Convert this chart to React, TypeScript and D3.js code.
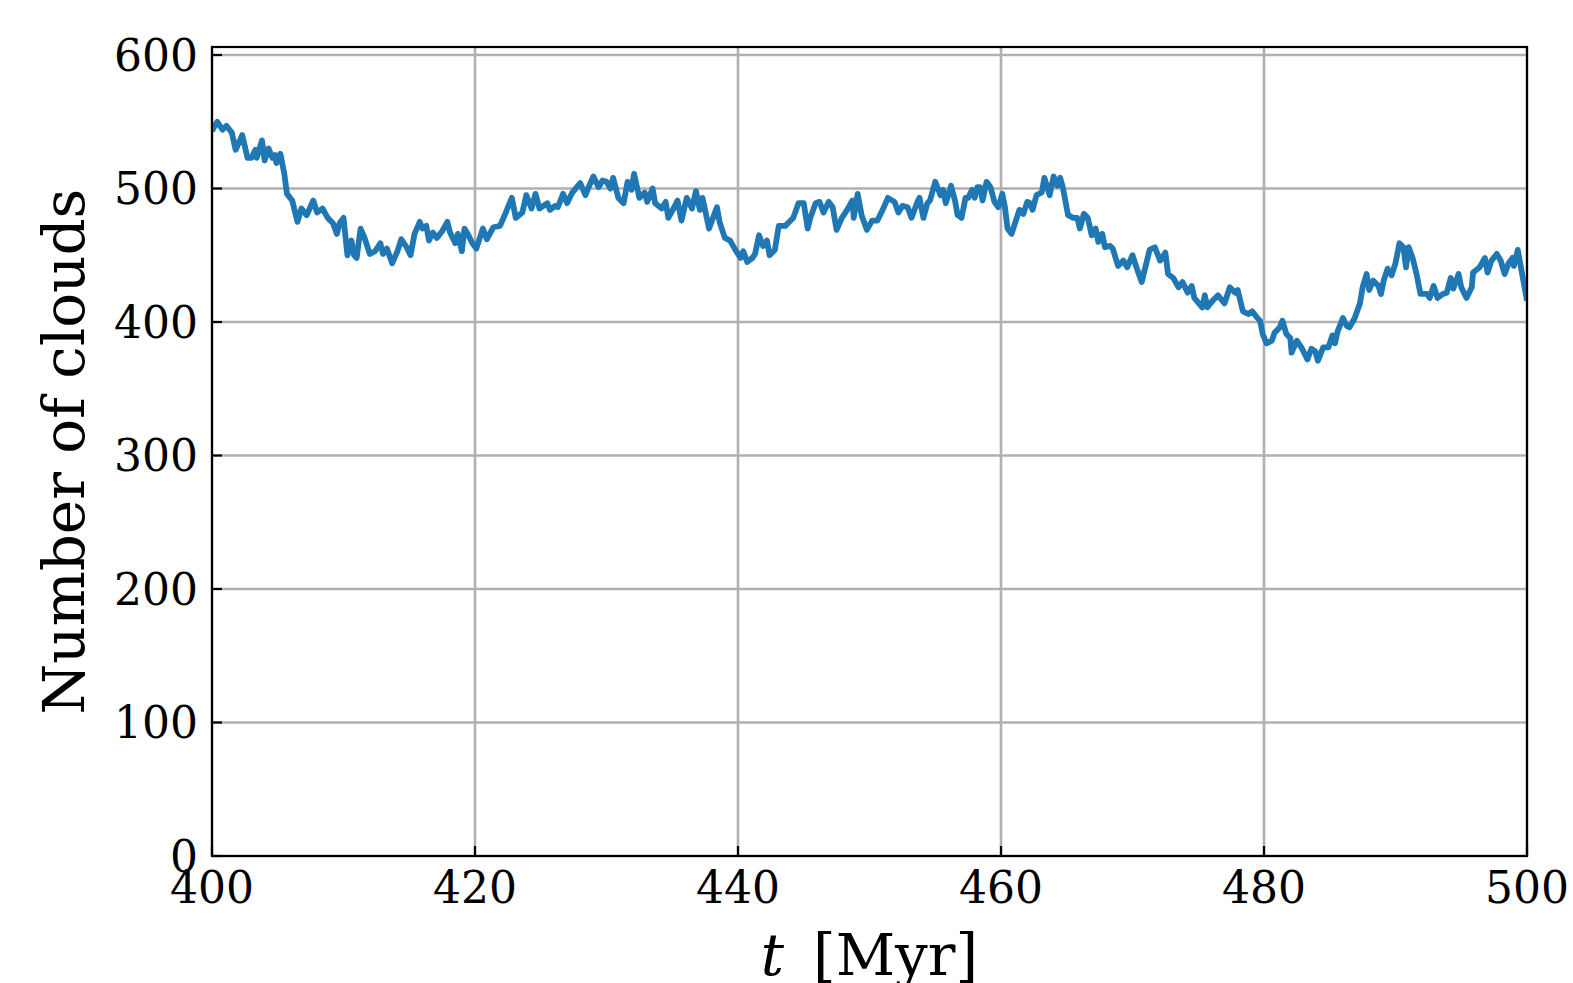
import React from 'react';
import * as d3 from 'd3';

// time samples [Myr] and number of clouds
const times: number[] = [
  400.0, 400.1, 400.4, 400.8, 401.1, 401.5, 401.8, 402.3, 402.7, 403.0, 403.3, 403.4, 403.8, 404.0, 404.3,
  404.6, 404.8, 404.9, 405.2, 405.5, 405.7, 406.1, 406.5, 406.8, 407.2, 407.7, 408.0, 408.4, 408.8, 409.2,
  409.5, 409.7, 410.0, 410.3, 410.6, 410.8, 411.0, 411.3, 411.6, 412.0, 412.4, 412.8, 413.0, 413.3, 413.7,
  414.1, 414.4, 414.8, 415.1, 415.4, 415.8, 416.0, 416.3, 416.5, 416.8, 417.1, 417.5, 417.9, 418.1, 418.5,
  418.7, 419.0, 419.2, 419.5, 419.8, 420.1, 420.6, 420.9, 421.4, 421.9, 422.3, 422.8, 423.1, 423.6, 423.9,
  424.3, 424.6, 424.9, 425.5, 425.7, 426.1, 426.3, 426.7, 427.0, 427.4, 428.0, 428.4, 428.6, 429.0, 429.4,
  429.7, 430.0, 430.3, 430.5, 430.9, 431.3, 431.6, 431.9, 432.1, 432.5, 432.9, 433.1, 433.5, 433.7, 434.2,
  434.5, 434.7, 435.1, 435.4, 435.7, 436.1, 436.5, 436.8, 437.1, 437.3, 437.8, 438.1, 438.4, 438.6, 439.0,
  439.4, 439.8, 440.2, 440.4, 440.7, 441.1, 441.3, 441.6, 441.9, 442.2, 442.4, 442.8, 443.1, 443.6, 444.0,
  444.2, 444.6, 445.0, 445.3, 445.5, 445.9, 446.2, 446.5, 446.9, 447.2, 447.5, 447.9, 448.3, 448.7, 448.8,
  449.1, 449.4, 449.8, 450.2, 450.6, 451.0, 451.4, 451.9, 452.2, 452.5, 452.9, 453.2, 453.6, 453.8, 454.1,
  454.4, 454.6, 455.0, 455.4, 455.6, 455.8, 456.2, 456.5, 456.7, 457.0, 457.3, 457.5, 457.8, 458.0, 458.2,
  458.4, 458.6, 458.9, 459.2, 459.5, 459.8, 460.1, 460.3, 460.5, 460.8, 461.1, 461.4, 461.7, 462.0, 462.2,
  462.4, 462.7, 463.1, 463.3, 463.7, 464.0, 464.3, 464.5, 464.7, 465.1, 465.5, 465.8, 466.0, 466.3, 466.6,
  466.9, 467.2, 467.4, 467.7, 467.9, 468.3, 468.5, 468.9, 469.3, 469.6, 470.0, 470.3, 470.7, 471.0, 471.3,
  471.7, 472.1, 472.5, 472.7, 473.1, 473.5, 473.8, 474.2, 474.5, 474.7, 475.3, 475.5, 475.7, 476.1, 476.5,
  477.0, 477.4, 477.8, 478.0, 478.4, 478.8, 479.1, 479.5, 479.7, 479.9, 480.2, 480.6, 480.8, 481.2, 481.4,
  481.7, 482.0, 482.1, 482.5, 482.9, 483.3, 483.6, 483.9, 484.1, 484.5, 484.9, 485.2, 485.4, 485.6, 486.0,
  486.3, 486.5, 486.9, 487.3, 487.5, 487.8, 488.0, 488.3, 488.7, 488.9, 489.1, 489.4, 489.7, 490.0, 490.3,
  490.6, 490.8, 491.0, 491.3, 491.6, 491.9, 492.4, 492.6, 492.9, 493.2, 493.6, 493.9, 494.2, 494.4, 494.8,
  495.0, 495.4, 495.8, 495.9, 496.4, 496.8, 497.0, 497.3, 497.7, 498.0, 498.3, 498.6, 498.9, 499.0, 499.3,
  500.0,
];

const clouds: number[] = [
  543, 545, 550, 544, 547, 542, 529, 540, 523, 523, 529, 523, 536, 521, 530,
  523, 525, 519, 526, 511, 496, 491, 475, 485, 480, 491, 482, 485, 478, 474,
  466, 474, 478, 450, 461, 450, 448, 470, 463, 451, 453, 459, 451, 455, 444,
  453, 462, 456, 450, 466, 475, 470, 472, 461, 467, 463, 468, 475, 467, 459,
  466, 453, 470, 465, 459, 455, 470, 462, 471, 472, 481, 493, 478, 482, 495,
  485, 496, 485, 489, 484, 487, 486, 496, 489, 497, 504, 495, 500, 509, 501,
  506, 505, 500, 508, 493, 489, 505, 499, 511, 493, 497, 490, 500, 489, 485,
  490, 478, 485, 491, 476, 493, 485, 498, 484, 493, 470, 478, 486, 475, 463,
  461, 454, 448, 453, 445, 448, 451, 465, 457, 461, 450, 454, 472, 472, 476,
  478, 489, 489, 470, 478, 489, 490, 482, 490, 486, 469, 478, 484, 491, 478,
  496, 480, 469, 476, 476, 484, 493, 490, 482, 487, 486, 478, 489, 493, 478,
  489, 491, 505, 495, 499, 489, 502, 491, 480, 478, 493, 493, 499, 493, 501,
  501, 491, 505, 501, 490, 486, 496, 486, 470, 466, 475, 484, 481, 490, 489,
  484, 495, 497, 508, 495, 509, 502, 508, 501, 480, 478, 478, 470, 481, 478,
  465, 470, 460, 466, 456, 457, 455, 442, 446, 441, 450, 441, 430, 442, 454,
  456, 446, 452, 436, 433, 426, 430, 422, 427, 418, 411, 420, 411, 416, 420,
  414, 426, 422, 424, 408, 406, 408, 403, 401, 391, 384, 386, 392, 396, 401,
  391, 388, 377, 386, 380, 372, 380, 378, 371, 381, 381, 390, 384, 393, 403,
  397, 396, 403, 414, 426, 436, 424, 431, 427, 421, 431, 440, 435, 444, 459,
  456, 441, 456, 448, 436, 421, 421, 418, 427, 418, 421, 422, 433, 425, 436,
  426, 418, 426, 437, 441, 448, 437, 446, 451, 446, 436, 444, 448, 442, 454,
  416,
];

const xTicks = [400, 420, 440, 460, 480, 500];
const yTicks = [0, 100, 200, 300, 400, 500, 600];

const W = 1573;
const H = 983;
const left = 212;
const right = 1527;
const top = 47;
const bottom = 856;
const serif = "'DejaVu Serif', serif";

const App: React.FC = () => {
  const x = d3.scaleLinear().domain([400, 500]).range([left, right]);
  const y = d3.scaleLinear().domain([0, 606]).range([bottom, top]);

  const pts: [number, number][] = times.map((t, i) => [t, clouds[i]]);
  const line = d3.line<[number, number]>()
    .x(d => x(d[0]))
    .y(d => y(d[1]));

  return (
    <svg width={W} height={H} style={{ position: 'absolute', left: 0, top: 0, background: '#fff' }}>
      <defs>
        <clipPath id="plot">
          <rect x={left} y={top} width={right - left} height={bottom - top} />
        </clipPath>
      </defs>

      {/* grid */}
      {xTicks.map(t => (
        <line key={'gx' + t} x1={x(t)} x2={x(t)} y1={top} y2={bottom} stroke="#b0b0b0" strokeWidth={2.6} />
      ))}
      {yTicks.map(t => (
        <line key={'gy' + t} x1={left} x2={right} y1={y(t)} y2={y(t)} stroke="#b0b0b0" strokeWidth={2.6} />
      ))}

      <path d={line(pts) || ''} fill="none" stroke="#1f77b4" strokeWidth={5.8}
        strokeLinejoin="round" strokeLinecap="butt" clipPath="url(#plot)" />

      {/* inward ticks */}
      {xTicks.map(t => (
        <line key={'tx' + t} x1={x(t)} x2={x(t)} y1={bottom} y2={bottom - 10} stroke="#000" strokeWidth={2.2} />
      ))}
      {yTicks.map(t => (
        <line key={'ty' + t} x1={left} x2={left + 10} y1={y(t)} y2={y(t)} stroke="#000" strokeWidth={2.2} />
      ))}

      <rect x={left} y={top} width={right - left} height={bottom - top} fill="none" stroke="#000" strokeWidth={2.2} />

      {/* tick labels */}
      {xTicks.map(t => (
        <text key={'lx' + t} x={x(t)} y={bottom + 47} textAnchor="middle"
          fontFamily={serif} fontSize={44} fill="#000">{t}</text>
      ))}
      {yTicks.map(t => (
        <text key={'ly' + t} x={left - 14} y={y(t)} textAnchor="end" dominantBaseline="central"
          fontFamily={serif} fontSize={44} fill="#000">{t}</text>
      ))}

      {/* axis labels */}
      <text x={(left + right) / 2} y={975} textAnchor="middle" fontFamily={serif} fontSize={58} fill="#000">
        <tspan fontStyle="italic">t</tspan>
        <tspan>{'\u2002[Myr]'}</tspan>
      </text>
      <text transform={`translate(84, ${(top + bottom) / 2}) rotate(-90)`} textAnchor="middle"
        fontFamily={serif} fontSize={58} fill="#000">Number of clouds</text>
    </svg>
  );
};

export default App;
